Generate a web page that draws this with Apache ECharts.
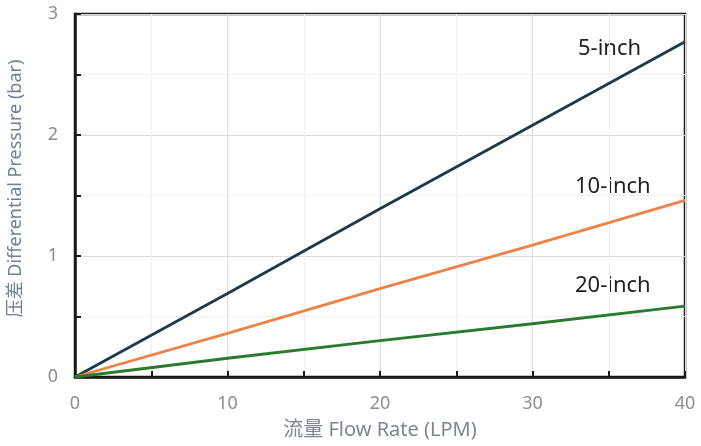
<!DOCTYPE html>
<html>
<head>
<meta charset="utf-8">
<script src="https://cdn.jsdelivr.net/npm/echarts@6/dist/echarts.min.js"></script>
<style>
  html, body { margin: 0; padding: 0; background: #fff; }
  #chart { width: 701px; height: 446px; }
</style>
</head>
<body>
<div id="chart"></div>
<script>
// 流量 (LPM) 与压差 (bar)
var flow = [0, 10, 20, 30, 40];
var inch5 = [0, 0.69, 1.39, 2.08, 2.77];
var inch10 = [0, 0.36, 0.73, 1.09, 1.46];
var inch20 = [0, 0.155, 0.30, 0.44, 0.585];
var seriesNames = ['5-inch', '10-inch', '20-inch'];

function pairs(xs, ys) {
  return xs.map(function (x, i) { return [x, ys[i]]; });
}

var chart = echarts.init(document.getElementById('chart'));

var font = '"Noto Sans", "Noto Sans CJK SC", sans-serif';

option = {
  animation: false,
  textStyle: { fontFamily: font },
  grid: {
    left: 75,
    right: 16,
    top: 14,
    bottom: 69,
    containLabel: false,
    outerBoundsMode: 'none',
    show: true,
    borderColor: '#1a1a1a',
    borderWidth: 2.5
  },
  xAxis: {
    type: 'value',
    min: 0,
    max: 40,
    interval: 5,
    name: '流量 Flow Rate (LPM)',
    nameLocation: 'middle',
    nameGap: 43,
    nameTextStyle: { color: '#7d8793', fontSize: 20, fontFamily: font },
    axisLine: { lineStyle: { color: '#1a1a1a', width: 2.5 } },
    axisTick: { inside: true, length: 6, lineStyle: { color: '#1a1a1a', width: 2 } },
    axisLabel: {
      color: '#8e8e8e',
      fontSize: 18,
      margin: 18,
      formatter: function (v) { return v % 10 === 0 ? v : ''; }
    },
    splitLine: { lineStyle: { color: ['#dcdcdc', '#f1f1f1'], width: 1 } }
  },
  yAxis: {
    type: 'value',
    min: 0,
    max: 3,
    interval: 0.5,
    name: '压差 Differential Pressure (bar)',
    nameLocation: 'middle',
    nameGap: 50,
    nameTextStyle: { color: '#6d8299', fontSize: 18, fontFamily: font, padding: [0, 0, 0, 14] },
    axisLine: { lineStyle: { color: '#1a1a1a', width: 2.5 } },
    axisTick: { inside: true, length: 6, lineStyle: { color: '#1a1a1a', width: 2 } },
    axisLabel: {
      color: '#8e8e8e',
      fontSize: 18,
      margin: 17,
      formatter: function (v) { return Number.isInteger(v) ? v : ''; }
    },
    splitLine: { lineStyle: { color: ['#dcdcdc', '#f1f1f1'], width: 1 } }
  },
  series: [
    {
      name: seriesNames[0],
      type: 'line',
      showSymbol: false,
      lineStyle: { color: '#1c3a4c', width: 2.8 },
      data: pairs(flow, inch5)
    },
    {
      name: seriesNames[1],
      type: 'line',
      showSymbol: false,
      lineStyle: { color: '#ec834a', width: 2.8 },
      data: pairs(flow, inch10)
    },
    {
      name: seriesNames[2],
      type: 'line',
      showSymbol: false,
      lineStyle: { color: '#2a7a30', width: 2.8 },
      data: pairs(flow, inch20)
    }
  ],
  graphic: [
    { type: 'text', left: 578, top: 38, style: { text: seriesNames[0], fill: '#222', fontSize: 22, fontFamily: font } },
    { type: 'text', left: 575, top: 176, style: { text: seriesNames[1], fill: '#222', fontSize: 22, fontFamily: font } },
    { type: 'text', left: 575, top: 275, style: { text: seriesNames[2], fill: '#222', fontSize: 22, fontFamily: font } }
  ]
};

chart.setOption(option);
</script>
</body>
</html>
